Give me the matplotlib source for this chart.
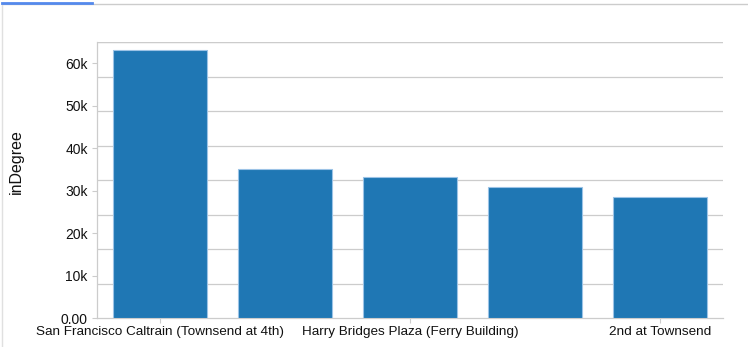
import matplotlib
matplotlib.use("Agg")
import matplotlib.pyplot as plt
from matplotlib.lines import Line2D
from matplotlib.ticker import FuncFormatter
import numpy as np

# top stations by number of incoming trips
estaciones = [
    "San Francisco Caltrain (Townsend at 4th)",
    "San Francisco Caltrain 2 (330 Townsend)",
    "Harry Bridges Plaza (Ferry Building)",
    "Embarcadero at Sansome",
    "2nd at Townsend",
]
in_degree = [63179, 35117, 33193, 30796, 28529]
etiquetas_visibles = [0, 2, 4]  # the others overlap and get dropped

plt.rcParams["font.family"] = ["Liberation Sans", "DejaVu Sans"]
gris = "#cccccc"

fig = plt.figure(figsize=(7.48, 3.47), dpi=100)
ax = fig.add_axes([97 / 748, 29 / 347, 626 / 748, 276 / 347])

x = np.arange(len(estaciones))
ax.bar(x, in_degree, width=0.75, color="#1f77b4", edgecolor="#9cc3e6",
       linewidth=0.8, zorder=3)

ax.set_xlim(-0.5, len(estaciones) - 0.5)
ymax = 65000
ax.set_ylim(0, ymax)

# ticks every 10k, grid on its own (8 slices of the axis)
ax.set_yticks(np.arange(0, 60001, 10000))
ax.set_yticks(np.linspace(0, ymax, 9), minor=True)
ax.yaxis.set_major_formatter(FuncFormatter(lambda v, p: "0.00" if v == 0 else "%dk" % (v / 1000)))
ax.grid(True, which="minor", axis="y", color=gris, linewidth=0.9, zorder=0)
ax.grid(False, which="major")
ax.tick_params(axis="y", which="minor", length=0)
ax.tick_params(axis="y", which="major", length=3.6, width=0.8, color=gris,
               labelsize=10, pad=3, labelcolor="#111111")

ax.set_xticks([x[i] for i in etiquetas_visibles])
ax.set_xticklabels([estaciones[i] for i in etiquetas_visibles])
ax.tick_params(axis="x", length=3.6, width=0.8, color=gris, labelsize=9.7,
               pad=2, labelcolor="#111111")

for lado in ["top", "right"]:
    ax.spines[lado].set_visible(False)
for lado in ["left", "bottom"]:
    ax.spines[lado].set_color(gris)
    ax.spines[lado].set_linewidth(0.9)

# top gridline runs a bit past the axis on the left
ax.add_artist(Line2D([92 / 748, 723 / 748], [305 / 347, 305 / 347],
                     transform=fig.transFigure, color=gris, linewidth=0.9))

ax.set_ylabel("inDegree", fontsize=11.5, color="#111111")
ax.yaxis.set_label_coords(-(97 - 24) / 626, (318 - 162) / 276)

# panel frame and the blue tab marker
fig.add_artist(Line2D([2 / 748, 1], [343 / 347, 343 / 347], color=gris, linewidth=1))
fig.add_artist(Line2D([2 / 748, 2 / 748], [0, 343 / 347], color="#e0e0e0", linewidth=1))
fig.add_artist(Line2D([2 / 748, 92 / 748], [344 / 347, 344 / 347], color="#5489ec", linewidth=2))

fig.savefig("out.png", dpi=100)
